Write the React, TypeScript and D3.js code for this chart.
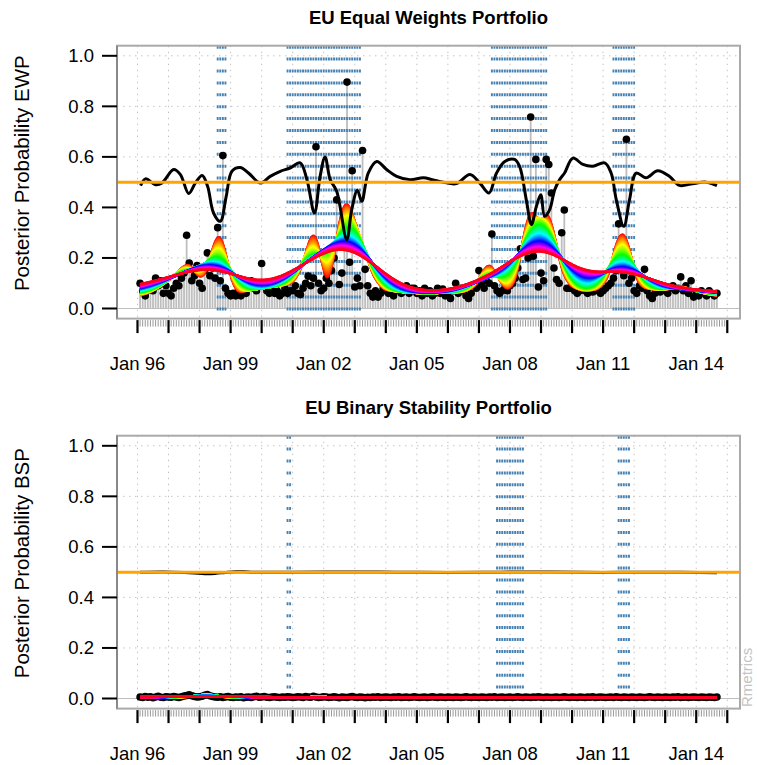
import React from 'react';
import * as d3 from 'd3';

const W = 757;
const H = 765;

// Monthly posterior probabilities, month-ends Jan 1996 .. Aug 2014
const ewpProb = [
  0.10, 0.07, 0.05, 0.08, 0.09, 0.07, 0.12, 0.09, 0.11, 0.06, 0.09, 0.06,
  0.05, 0.08, 0.10, 0.09, 0.12, 0.14, 0.29, 0.18, 0.11, 0.13, 0.17, 0.10,
  0.08, 0.15, 0.22, 0.13, 0.16, 0.12, 0.32, 0.11, 0.605, 0.08, 0.06, 0.05,
  0.06, 0.05, 0.07, 0.05, 0.08, 0.06, 0.09, 0.11, 0.08, 0.07, 0.10, 0.178,
  0.09, 0.07, 0.06, 0.08, 0.06, 0.07, 0.05, 0.06, 0.08, 0.06, 0.07, 0.07,
  0.09, 0.06, 0.055, 0.08, 0.10, 0.128, 0.09, 0.12, 0.64, 0.10, 0.07, 0.08,
  0.12, 0.10, 0.15, 0.20, 0.43, 0.095, 0.14, 0.25, 0.896, 0.183, 0.545, 0.085,
  0.12, 0.09, 0.625, 0.155, 0.09, 0.06, 0.045, 0.07, 0.045, 0.06, 0.08, 0.07,
  0.06, 0.09, 0.05, 0.07, 0.08, 0.06, 0.07, 0.09, 0.06, 0.08, 0.08, 0.06,
  0.07, 0.05, 0.08, 0.06, 0.07, 0.05, 0.06, 0.08, 0.06, 0.077, 0.05, 0.06,
  0.04, 0.07, 0.10, 0.06, 0.08, 0.07, 0.05, 0.04, 0.06, 0.09, 0.08, 0.15,
  0.095, 0.08, 0.11, 0.10, 0.295, 0.09, 0.07, 0.06, 0.07, 0.08, 0.07, 0.09,
  0.10, 0.12, 0.16, 0.236, 0.115, 0.12, 0.20, 0.758, 0.207, 0.59, 0.085, 0.14,
  0.11, 0.59, 0.57, 0.457, 0.16, 0.115, 0.10, 0.30, 0.39, 0.08, 0.08, 0.08,
  0.07, 0.06, 0.07, 0.08, 0.07, 0.06, 0.07, 0.065, 0.08, 0.07, 0.06, 0.07,
  0.08, 0.09, 0.10, 0.12, 0.15, 0.335, 0.20, 0.13, 0.67, 0.10, 0.12, 0.07,
  0.06, 0.09, 0.08, 0.155, 0.07, 0.05, 0.04, 0.06, 0.07, 0.065, 0.08, 0.07,
  0.06, 0.08, 0.09, 0.07, 0.08, 0.125, 0.07, 0.09, 0.06, 0.11, 0.045, 0.06,
  0.05, 0.07, 0.06, 0.05, 0.07, 0.06, 0.05, 0.06,
];

const bspProb = [
  0.006, 0.004, 0.008, 0.005, 0.007, 0.003, 0.006, 0.009, 0.005, 0.004, 0.007, 0.006,
  0.005, 0.008, 0.006, 0.004, 0.007, 0.010, 0.012, 0.015, 0.011, 0.008, 0.006, 0.007,
  0.009, 0.013, 0.016, 0.011, 0.008, 0.006, 0.005, 0.007, 0.004, 0.006, 0.008, 0.005,
  0.004, 0.006, 0.005, 0.007, 0.003, 0.005, 0.006, 0.004, 0.007, 0.009, 0.005, 0.006,
  0.008, 0.005, 0.004, 0.006, 0.007, 0.005, 0.004, 0.006, 0.005, 0.007, 0.006, 0.004,
  0.005, 0.007, 0.006, 0.004, 0.008, 0.006, 0.005, 0.009, 0.006, 0.004, 0.005, 0.007,
  0.006, 0.004, 0.005, 0.007, 0.005, 0.003, 0.006, 0.005, 0.004, 0.006, 0.008, 0.005,
  0.004, 0.006, 0.005, 0.003, 0.005, 0.004, 0.006, 0.005, 0.007, 0.004, 0.005, 0.006,
  0.005, 0.004, 0.006, 0.005, 0.007, 0.004, 0.005, 0.006, 0.004, 0.005, 0.007, 0.005,
  0.004, 0.005, 0.006, 0.004, 0.005, 0.007, 0.005, 0.004, 0.006, 0.005, 0.004, 0.006,
  0.005, 0.004, 0.006, 0.005, 0.004, 0.005, 0.007, 0.005, 0.004, 0.006, 0.005, 0.004,
  0.006, 0.005, 0.004, 0.006, 0.005, 0.007, 0.004, 0.005, 0.006, 0.004, 0.005, 0.006,
  0.004, 0.005, 0.007, 0.005, 0.004, 0.006, 0.005, 0.004, 0.006, 0.005, 0.007, 0.005,
  0.004, 0.006, 0.005, 0.004, 0.005, 0.006, 0.004, 0.005, 0.007, 0.005, 0.004, 0.006,
  0.005, 0.004, 0.006, 0.005, 0.004, 0.006, 0.005, 0.007, 0.004, 0.005, 0.006, 0.005,
  0.004, 0.005, 0.006, 0.004, 0.007, 0.005, 0.004, 0.006, 0.005, 0.004, 0.006, 0.005,
  0.004, 0.006, 0.005, 0.004, 0.005, 0.007, 0.005, 0.004, 0.006, 0.005, 0.004, 0.006,
  0.005, 0.004, 0.006, 0.005, 0.007, 0.004, 0.005, 0.006, 0.004, 0.005, 0.006, 0.005,
  0.004, 0.006, 0.005, 0.004, 0.006, 0.005, 0.004, 0.006,
];

// Smoothed probability level (months since Jan 1996, value)
const ewpLevelM = [1.2, 3.1, 6.9, 9.5, 14, 16.6, 19.8, 22.4, 25, 27.1, 29.4, 32, 34.3, 36.5, 39.7, 42.9, 47.5, 51.3, 55.2, 59, 62.9, 65.5, 68.4, 70.6, 72.5, 74.5, 77, 80.9, 82.8, 85, 86.7, 89.2, 92.5, 96.3, 100.2, 105.3, 110.5, 114, 118.2, 123.3, 128.5, 132.3, 135.9, 138.8, 142, 145.8, 147.8, 150.3, 152.3, 154.2, 155.9, 157.4, 159.3, 161.3, 163.2, 165.1, 168.3, 172.2, 176, 180.6, 183.1, 185.1, 188, 190.2, 192.8, 196.6, 201.1, 205.6, 209.5, 214.6, 219.8, 224];
const ewpLevelV = [0.486, 0.513, 0.49, 0.497, 0.55, 0.53, 0.455, 0.497, 0.526, 0.484, 0.378, 0.345, 0.444, 0.543, 0.558, 0.536, 0.497, 0.523, 0.543, 0.556, 0.576, 0.51, 0.378, 0.523, 0.6, 0.51, 0.464, 0.273, 0.39, 0.468, 0.424, 0.536, 0.582, 0.55, 0.523, 0.51, 0.517, 0.51, 0.5, 0.494, 0.53, 0.497, 0.457, 0.536, 0.582, 0.59, 0.56, 0.43, 0.332, 0.404, 0.45, 0.365, 0.39, 0.47, 0.51, 0.536, 0.595, 0.57, 0.563, 0.576, 0.536, 0.43, 0.325, 0.43, 0.536, 0.517, 0.545, 0.523, 0.487, 0.494, 0.5, 0.486];

const bspLevelM = [1, 10, 18, 22, 26, 30, 34, 38, 44, 60, 80, 100, 120, 140, 160, 180, 200, 224];
const bspLevelV = [0.5, 0.501, 0.499, 0.497, 0.494, 0.495, 0.499, 0.502, 0.5, 0.5, 0.501, 0.5, 0.499, 0.5, 0.501, 0.499, 0.5, 0.498];

// Trend signal that is smoothed with growing bandwidths
const ewpTrendM = [1, 6, 12, 17, 19.7, 22, 24.3, 27, 29.5, 31.6, 33.5, 36, 38.5, 42, 48, 55, 60, 64, 66.5, 68.7, 71, 73.2, 76, 78.5, 80.9, 83, 85.5, 88, 91, 95, 102, 110, 118, 126, 131, 133.5, 136.2, 139, 142.6, 146, 149, 151, 152.8, 155.5, 158.6, 161, 164, 167.1, 172, 178, 182, 185, 187.5, 190, 192.5, 195.2, 200, 205, 208, 210.6, 214, 219, 224];
const ewpTrendV = [0.05, 0.07, 0.11, 0.16, 0.18, 0.15, 0.115, 0.15, 0.26, 0.30, 0.25, 0.12, 0.063, 0.07, 0.08, 0.09, 0.10, 0.17, 0.28, 0.305, 0.2, 0.088, 0.2, 0.38, 0.43, 0.38, 0.29, 0.23, 0.13, 0.075, 0.065, 0.06, 0.062, 0.065, 0.09, 0.15, 0.18, 0.13, 0.07, 0.10, 0.27, 0.37, 0.39, 0.33, 0.39, 0.30, 0.15, 0.09, 0.07, 0.075, 0.12, 0.26, 0.31, 0.25, 0.12, 0.083, 0.075, 0.075, 0.085, 0.088, 0.075, 0.06, 0.05];

const bspTrendM = [1, 20, 24, 27, 30, 34, 44, 47, 50, 66, 70, 74, 100, 224];
const bspTrendV = [0.005, 0.006, 0.012, 0.02, 0.01, 0.005, 0.005, 0.008, 0.005, 0.005, 0.007, 0.005, 0.005, 0.005];

// Regime periods (first and last month)
const ewpRegimes = [["1998-07", "1998-10"], ["2000-10", "2003-02"], ["2007-05", "2009-02"], ["2011-04", "2011-12"]];
const bspRegimes = [["2000-10", "2000-11"], ["2007-07", "2008-05"], ["2011-06", "2011-10"]];

const yTicks = [0, 0.2, 0.4, 0.6, 0.8, 1.0];
const labelYears = [1996, 1999, 2002, 2005, 2008, 2011, 2014];
const firstYear = 1996;
const lastTickYear = 2015;
const threshold = 0.5;

const BOX = { left: 117, right: 740, top: 45.7, bottom: 318.6 };
const PANEL_SHIFT = 390;
const FONT = '"Liberation Sans", Arial, Helvetica, sans-serif';

const monthOf = (s: string) => {
  const [y, m] = s.split('-').map(Number);
  return (y - firstYear) * 12 + m;
};

const nObs = ewpProb.length;
const mStart = 1;
const mEnd = nObs;
const pad = 0.04 * (mEnd - mStart);
const x = d3.scaleLinear().domain([mStart - pad, mEnd + pad]).range([BOX.left, BOX.right]);

function gaussSmooth(vals: number[], step: number, sigma: number) {
  if (sigma <= 0) return vals.slice();
  const r = Math.ceil((3 * sigma) / step);
  const w: number[] = [];
  for (let k = -r; k <= r; k++) w.push(Math.exp(-0.5 * ((k * step) / sigma) ** 2));
  const out = new Array(vals.length);
  for (let i = 0; i < vals.length; i++) {
    let s = 0;
    let ws = 0;
    for (let k = -r; k <= r; k++) {
      const j = i + k;
      if (j < 0 || j >= vals.length) continue;
      s += w[k + r] * vals[j];
      ws += w[k + r];
    }
    out[i] = s / ws;
  }
  return out;
}

function rainbowFamily(tm: number[], tv: number[], n: number, sMin: number, sMax: number) {
  const step = 0.25;
  const interp = d3.scaleLinear().domain(tm).range(tv).clamp(true);
  const grid = d3.range(mStart, mEnd + 1e-9, step);
  const base = grid.map((g) => interp(g));
  return d3.range(n).map((i) => {
    const sigma = sMin + (sMax - sMin) * (i / (n - 1));
    const sm = gaussSmooth(base, step, sigma);
    return {
      color: d3.hsl((360 * i) / n, 1, 0.5).formatHex(),
      pts: grid.map((g, k) => [g, sm[k]] as [number, number]),
    };
  });
}

type PanelProps = {
  offset: number;
  title: string;
  ylabel: string;
  prob: number[];
  levelM: number[];
  levelV: number[];
  trendM: number[];
  trendV: number[];
  regimes: string[][];
};

function Panel({ offset, title, ylabel, prob, levelM, levelV, trendM, trendV, regimes }: PanelProps) {
  const top = BOX.top + offset;
  const bottom = BOX.bottom + offset;
  const y = d3.scaleLinear().domain([-0.04, 1.04]).range([bottom, top]);
  const family = rainbowFamily(trendM, trendV, 60, 1, 11);
  const curve = d3.line<[number, number]>().x((d) => x(d[0])).y((d) => y(d[1]));
  const levelLine = d3
    .line<number>()
    .x((d) => x(d))
    .y((_, i) => y(levelV[i]))
    .curve(d3.curveCatmullRom.alpha(0.5));

  const regimeMonths: number[] = [];
  regimes.forEach(([a, b]) => {
    for (let m = monthOf(a); m <= monthOf(b); m++) regimeMonths.push(m);
  });

  const years = d3.range(0, lastTickYear - firstYear + 1);
  const months = d3.range(0, (lastTickYear - firstYear) * 12 + 1);
  const cy = (top + bottom) / 2;

  return (
    <g>
      <text x={(BOX.left + BOX.right) / 2} y={offset + 24} textAnchor="middle" fontFamily={FONT} fontWeight="bold" fontSize={18.5} fill="#000">
        {title}
      </text>
      {/* grid */}
      {years.map((yr) => (
        <line key={'gv' + yr} x1={x(yr * 12)} x2={x(yr * 12)} y1={top} y2={bottom} stroke="#c4c4c4" strokeWidth={1} strokeDasharray="1.5 4.5" />
      ))}
      {yTicks.map((t) => (
        <line key={'gh' + t} x1={BOX.left} x2={BOX.right} y1={y(t)} y2={y(t)} stroke="#c4c4c4" strokeWidth={1} strokeDasharray="1.5 4.5" />
      ))}
      <line x1={BOX.left} x2={BOX.right} y1={y(0)} y2={y(0)} stroke="#bebebe" strokeWidth={1.2} />
      {/* monthly bars */}
      {prob.map((v, i) => (
        <line key={'b' + i} x1={x(i + 1)} x2={x(i + 1)} y1={y(0)} y2={y(v)} stroke="#bebebe" strokeWidth={1.8} />
      ))}
      {/* regime markers */}
      {regimeMonths.map((m) => (
        <line key={'r' + m} x1={x(m)} x2={x(m)} y1={top} y2={bottom} stroke="#4682b4" strokeWidth={1.9} strokeDasharray="3 8.9" />
      ))}
      {prob.map((v, i) => (
        <circle key={'p' + i} cx={x(i + 1)} cy={y(v)} r={3.8} fill="#000" />
      ))}
      {family.map((c, i) => (
        <path key={'f' + i} d={curve(c.pts) || ''} fill="none" stroke={c.color} strokeWidth={2.4} />
      ))}
      <path d={levelLine(levelM) || ''} fill="none" stroke="#000" strokeWidth={3} />
      <line x1={BOX.left} x2={BOX.right} y1={y(threshold)} y2={y(threshold)} stroke="#ffa500" strokeWidth={3} />
      {/* frame */}
      <rect x={BOX.left} y={top} width={BOX.right - BOX.left} height={bottom - top} fill="none" stroke="#aaaaaa" strokeWidth={2} />
      <line x1={BOX.left} x2={BOX.left} y1={top} y2={bottom} stroke="#888" strokeWidth={2} />
      {/* y axis */}
      {yTicks.map((t) => (
        <g key={'yt' + t}>
          <line x1={102} x2={BOX.left} y1={y(t)} y2={y(t)} stroke="#000" strokeWidth={2} />
          <text x={94} y={y(t)} dy="0.35em" textAnchor="end" fontFamily={FONT} fontSize={18.5} fill="#000">
            {t.toFixed(1)}
          </text>
        </g>
      ))}
      <text transform={`translate(29,${cy - 9}) rotate(-90)`} textAnchor="middle" fontFamily={FONT} fontSize={20.5} fill="#000">
        {ylabel}
      </text>
      {/* x axis */}
      {months.map((m) =>
        m % 12 === 0 ? null : (
          <line key={'mt' + m} x1={x(m)} x2={x(m)} y1={bottom + 1.5} y2={bottom + 8} stroke="#999" strokeWidth={1} />
        )
      )}
      {years.map((yr) => (
        <line key={'yt' + yr} x1={x(yr * 12)} x2={x(yr * 12)} y1={bottom + 1.5} y2={bottom + 14.5} stroke="#000" strokeWidth={2.2} />
      ))}
      {labelYears.map((yr) => (
        <text key={'xl' + yr} x={x((yr - firstYear) * 12)} y={bottom + 51} textAnchor="middle" fontFamily={FONT} fontSize={18.5} fill="#000">
          {'Jan ' + String(yr % 100).padStart(2, '0')}
        </text>
      ))}
    </g>
  );
}

export default function App() {
  return (
    <svg width={W} height={H} viewBox={`0 0 ${W} ${H}`} style={{ position: 'absolute', left: 0, top: 0, background: '#fff' }}>
      <rect width={W} height={H} fill="#fff" />
      <Panel
        offset={0}
        title="EU Equal Weights Portfolio"
        ylabel="Posterior Probability EWP"
        prob={ewpProb}
        levelM={ewpLevelM}
        levelV={ewpLevelV}
        trendM={ewpTrendM}
        trendV={ewpTrendV}
        regimes={ewpRegimes}
      />
      <Panel
        offset={PANEL_SHIFT}
        title="EU Binary Stability Portfolio"
        ylabel="Posterior Probability BSP"
        prob={bspProb}
        levelM={bspLevelM}
        levelV={bspLevelV}
        trendM={bspTrendM}
        trendV={bspTrendV}
        regimes={bspRegimes}
      />
      <text transform="translate(752,707) rotate(-90)" fontFamily={FONT} fontSize={15} fill="#c4c4c4">
        Rmetrics
      </text>
    </svg>
  );
}
